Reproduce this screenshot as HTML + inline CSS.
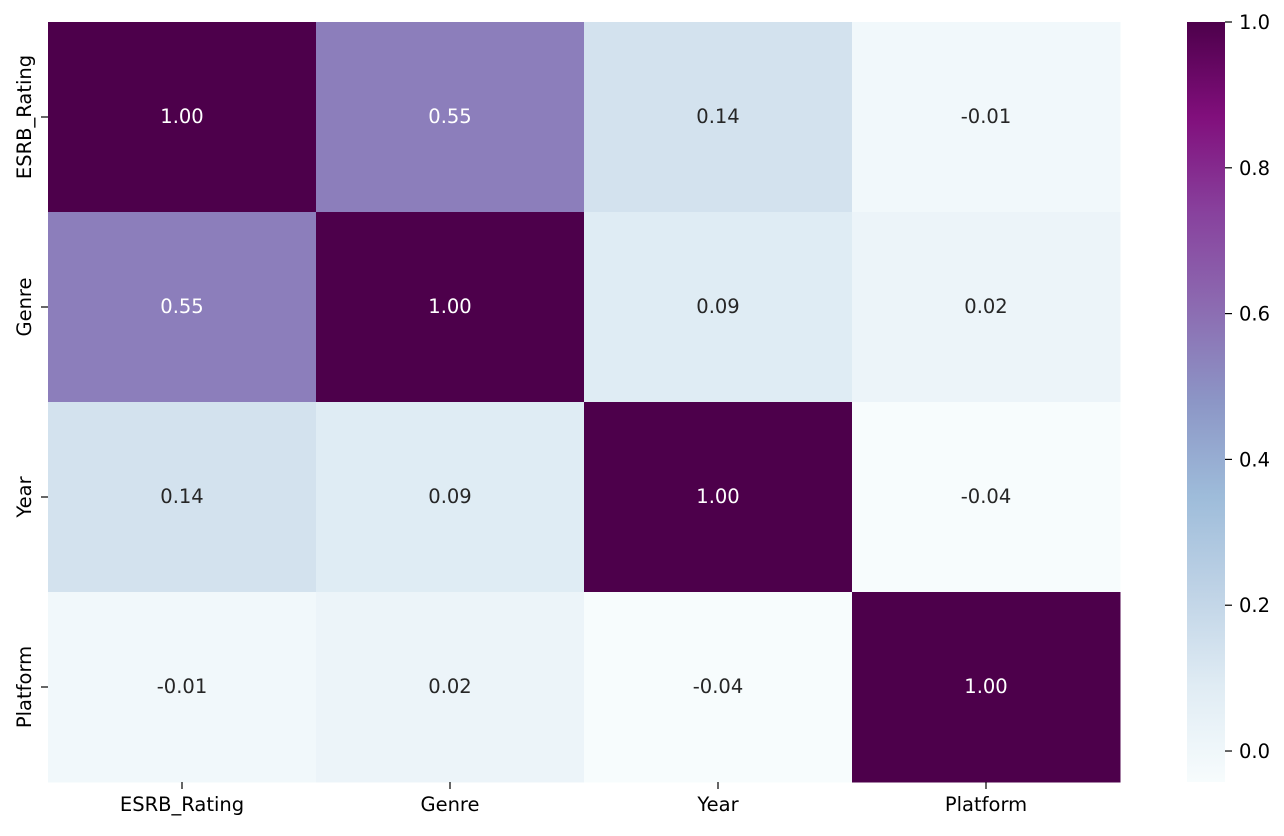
<!DOCTYPE html>
<html><head><meta charset="utf-8"><style>
body{margin:0;background:#fff;}
svg text{font-family:"DejaVu Sans","Liberation Sans",sans-serif;font-size:19.5px;}
</style></head><body>
<svg id="chart" width="1284" height="831" xmlns="http://www.w3.org/2000/svg">
<defs><linearGradient id="cbgrad" x1="0" y1="1" x2="0" y2="0"></linearGradient></defs>
<g id="cells"></g>
<g id="axes"></g>
<g id="cbar"></g>
</svg>
<script>
const labels = ["ESRB_Rating","Genre","Year","Platform"];
const row0 = [1.00, 0.55, 0.14, -0.01];
const row1 = [0.55, 1.00, 0.09, 0.02];
const row2 = [0.14, 0.09, 1.00, -0.04];
const row3 = [-0.01, 0.02, -0.04, 1.00];
const cbTicks = [0.0, 0.2, 0.4, 0.6, 0.8, 1.0];
const vmin = -0.0425, vmax = 1.0;
const matrix = [row0,row1,row2,row3];
const NS="http://www.w3.org/2000/svg";
const stops=["#f7fcfd","#e0ecf4","#bfd3e6","#9ebcda","#8c96c6","#8c6bb1","#88419d","#810f7c","#4d004b"];
function hex(h){return [1,3,5].map(i=>parseInt(h.substr(i,2),16));}
function cmap(v){let t=(v-vmin)/(vmax-vmin);t=Math.max(0,Math.min(1,t))*(stops.length-1);
 const i=Math.min(Math.floor(t),stops.length-2),f=t-i;const a=hex(stops[i]),b=hex(stops[i+1]);
 return "rgb("+a.map((c,k)=>Math.round(c+(b[k]-c)*f)).join(",")+")";}
const X0=48,Y0=22,W=1072,H=760,n=labels.length,cw=W/n,ch=H/n;
const xs=i=>X0+i*cw, ys=i=>Y0+i*ch;
function mk(tag,attrs,parent){const e=document.createElementNS(NS,tag);for(const k in attrs)e.setAttribute(k,attrs[k]);parent.appendChild(e);return e;}
const cells=document.getElementById('cells'),axes=document.getElementById('axes'),cb=document.getElementById('cbar');
matrix.forEach((row,r)=>row.forEach((v,c)=>{
 const rc=mk('rect',{x:xs(c),y:ys(r),width:cw+0.5,height:ch+0.5,fill:cmap(v)},cells);
 
 
 const t=mk('text',{x:xs(c)+cw/2,y:ys(r)+ch/2+6,'text-anchor':'middle',fill:(v>0.5?'#fff':'#262626')},cells);
 t.textContent=v.toFixed(2);
 
 
}));
labels.forEach((l,i)=>{
 mk('line',{x1:xs(i)+cw/2,x2:xs(i)+cw/2,y1:Y0+H,y2:Y0+H+7,stroke:'#000','stroke-width':1.2},axes);
 const t=mk('text',{x:xs(i)+cw/2,y:Y0+H+29,'text-anchor':'middle',fill:'#000'},axes);t.textContent=l;
 
 
 const cy=ys(i)+ch/2;
 mk('line',{x1:X0-7,x2:X0,y1:cy,y2:cy,stroke:'#000','stroke-width':1.2},axes);
 const u=mk('text',{x:0,y:0,'text-anchor':'middle',fill:'#000',transform:`translate(${X0-17},${cy}) rotate(-90)`},axes);u.textContent=l;
 
 
});
const CX=1187,CW=38,CY=22,CH=760;
const cy=v=>CY+CH-(v-vmin)/(vmax-vmin)*CH;
const g=document.getElementById('cbgrad');
stops.forEach((s,i)=>mk('stop',{offset:i/(stops.length-1),'stop-color':s},g));
const r=mk('rect',{x:CX,y:CY,width:CW,height:CH,fill:'url(#cbgrad)'},cb);


cbTicks.forEach(v=>{
 mk('line',{x1:CX+CW,x2:CX+CW+7,y1:cy(v),y2:cy(v),stroke:'#000','stroke-width':1.2},cb);
 const t=mk('text',{x:CX+CW+14,y:cy(v)+7,fill:'#000'},cb);t.textContent=v.toFixed(1);
 
 
});
</script>
</body></html>
